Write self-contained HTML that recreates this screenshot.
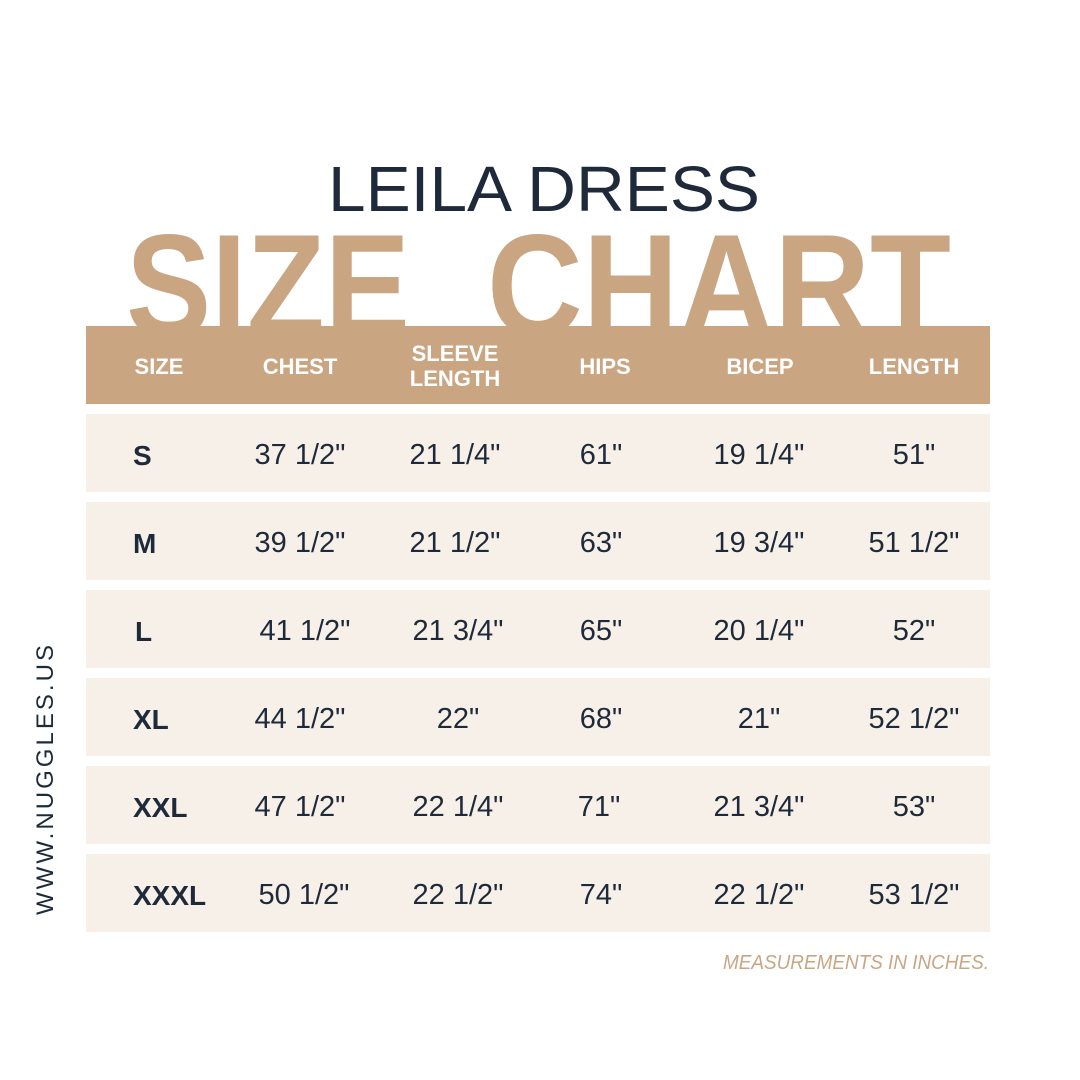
<!DOCTYPE html>
<html><head><meta charset="utf-8"><style>
html,body{margin:0;padding:0;background:#fff;}
svg{display:block;}
</style></head><body>
<svg width="1080" height="1080" viewBox="0 0 1080 1080" xmlns="http://www.w3.org/2000/svg">
<rect width="1080" height="1080" fill="#fff"/>
<text x="544" y="211" text-anchor="middle" font-family="Liberation Sans, sans-serif" font-size="64" fill="#1e2a3a" textLength="432" lengthAdjust="spacingAndGlyphs">LEILA DRESS</text>
<text x="126" y="336" font-family="Liberation Sans, sans-serif" font-weight="bold" font-size="146" fill="#c9a582" textLength="284" lengthAdjust="spacingAndGlyphs">SIZE</text>
<text x="487" y="336" font-family="Liberation Sans, sans-serif" font-weight="bold" font-size="146" fill="#c9a582" textLength="464" lengthAdjust="spacingAndGlyphs">CHART</text>
<rect x="86" y="326" width="904" height="78" fill="#c9a582"/>
<g font-family="Liberation Sans Narrow, Liberation Sans, sans-serif" font-weight="bold" font-size="22" fill="#fff" text-anchor="middle">
<text x="159" y="374">SIZE</text>
<text x="300" y="374">CHEST</text>
<text x="455" y="361">SLEEVE</text>
<text x="455" y="386">LENGTH</text>
<text x="605" y="374">HIPS</text>
<text x="760" y="374">BICEP</text>
<text x="914" y="374">LENGTH</text>
</g>
<g fill="#f7f0e8">
<rect x="86" y="414" width="904" height="78"/>
<rect x="86" y="502" width="904" height="78"/>
<rect x="86" y="590" width="904" height="78"/>
<rect x="86" y="678" width="904" height="78"/>
<rect x="86" y="766" width="904" height="78"/>
<rect x="86" y="854" width="904" height="78"/>
</g>
<g font-family="Liberation Sans, sans-serif" font-weight="bold" font-size="28" fill="#1e2a3a">
<text x="133" y="465">S</text>
<text x="133" y="553">M</text>
<text x="135" y="641">L</text>
<text x="133" y="729">XL</text>
<text x="133" y="817">XXL</text>
<text x="133" y="905">XXXL</text>
</g>
<g font-family="Liberation Sans Narrow, Liberation Sans, sans-serif" font-size="29" fill="#1e2a3a" text-anchor="middle">
<text x="300" y="464">37 1/2"</text><text x="455" y="464">21 1/4"</text><text x="601" y="464">61"</text><text x="759" y="464">19 1/4"</text><text x="914" y="464">51"</text>
<text x="300" y="552">39 1/2"</text><text x="455" y="552">21 1/2"</text><text x="601" y="552">63"</text><text x="759" y="552">19 3/4"</text><text x="914" y="552">51 1/2"</text>
<text x="305" y="640">41 1/2"</text><text x="458" y="640">21 3/4"</text><text x="601" y="640">65"</text><text x="759" y="640">20 1/4"</text><text x="914" y="640">52"</text>
<text x="300" y="728">44 1/2"</text><text x="458" y="728">22"</text><text x="601" y="728">68"</text><text x="759" y="728">21"</text><text x="914" y="728">52 1/2"</text>
<text x="300" y="816">47 1/2"</text><text x="458" y="816">22 1/4"</text><text x="599" y="816">71"</text><text x="759" y="816">21 3/4"</text><text x="914" y="816">53"</text>
<text x="304" y="904">50 1/2"</text><text x="458" y="904">22 1/2"</text><text x="601" y="904">74"</text><text x="759" y="904">22 1/2"</text><text x="914" y="904">53 1/2"</text>
</g>
<text transform="translate(53,915) rotate(-90)" font-family="Liberation Sans, sans-serif" font-size="24" fill="#1e2a3a" textLength="270" lengthAdjust="spacing">WWW.NUGGLES.US</text>
<text x="989" y="969" text-anchor="end" font-family="Liberation Sans, sans-serif" font-style="italic" font-size="20" fill="#c9a582" textLength="266" lengthAdjust="spacingAndGlyphs">MEASUREMENTS IN INCHES.</text>
</svg>
</body></html>
